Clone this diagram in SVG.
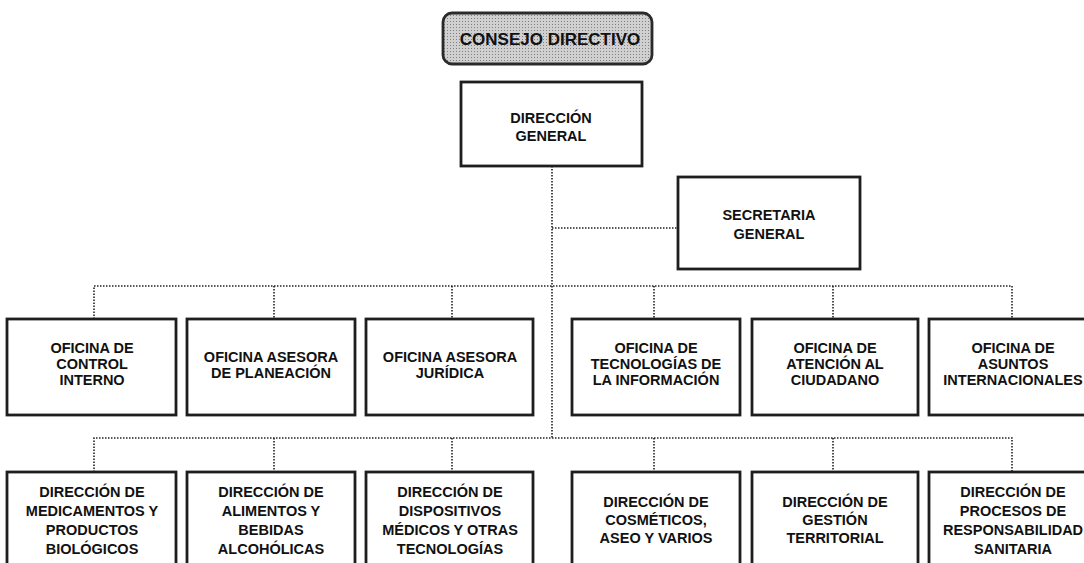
<svg xmlns="http://www.w3.org/2000/svg" width="1084" height="563" viewBox="0 0 1084 563">
<defs>
<pattern id="dots" width="3" height="3" patternUnits="userSpaceOnUse">
<rect width="3" height="3" fill="#d0d0d0"/>
<rect width="1" height="1" fill="#808080"/>
</pattern>
</defs>
<style>
.box{fill:#fff;stroke:#1e1e1e;stroke-width:2.8}
.head{fill:url(#dots);stroke:#2a2a2a;stroke-width:2.8}
.conn{fill:none;stroke:#222;stroke-width:1.6;stroke-dasharray:1.5 1.5}
text{font-family:"Liberation Sans",Arial,sans-serif;font-weight:bold;font-size:14.5px;fill:#111;text-anchor:middle}
.big{font-size:17px}
</style>
<rect width="1084" height="563" fill="#fff"/>
<g id="connectors">
<path class="conn" d="M552 166 V438"/>
<path class="conn" d="M552 228 H678"/>
<path class="conn" d="M94 319 V286 H1012 V319"/>
<path class="conn" d="M274 286 V319 M452 286 V319 M654 286 V319 M833 286 V319"/>
<path class="conn" d="M94 472 V438 H1012 V472"/>
<path class="conn" d="M274 438 V472 M452 438 V472 M654 438 V472 M833 438 V472"/>
</g>
<g id="consejo">
<rect class="head" x="443" y="13" width="209" height="51" rx="9"/>
<text class="big" x="550" y="45">CONSEJO DIRECTIVO</text>
</g>
<g id="direccion-general">
<rect class="box" x="461" y="82" width="181" height="84"/>
<text x="551" y="123">DIRECCIÓN</text>
<text x="551" y="141">GENERAL</text>
</g>
<g id="secretaria">
<rect class="box" x="678" y="177" width="182" height="92"/>
<text x="769" y="220">SECRETARIA</text>
<text x="769" y="239">GENERAL</text>
</g>
<g id="of-control">
<rect class="box" x="7" y="319" width="169" height="96"/>
<text x="92" y="353">OFICINA DE</text>
<text x="92" y="369">CONTROL</text>
<text x="92" y="385">INTERNO</text>
</g>
<g id="of-planeacion">
<rect class="box" x="187" y="319" width="168" height="96"/>
<text x="271" y="362">OFICINA ASESORA</text>
<text x="271" y="378">DE PLANEACIÓN</text>
</g>
<g id="of-juridica">
<rect class="box" x="366" y="319" width="167" height="96"/>
<text x="450" y="362">OFICINA ASESORA</text>
<text x="450" y="378">JURÍDICA</text>
</g>
<g id="of-tecnologias">
<rect class="box" x="572" y="319" width="168" height="96"/>
<text x="656" y="353">OFICINA DE</text>
<text x="656" y="369">TECNOLOGÍAS DE</text>
<text x="656" y="385">LA INFORMACIÓN</text>
</g>
<g id="of-atencion">
<rect class="box" x="752" y="319" width="166" height="96"/>
<text x="835" y="353">OFICINA DE</text>
<text x="835" y="369">ATENCIÓN AL</text>
<text x="835" y="385">CIUDADANO</text>
</g>
<g id="of-internacionales">
<rect class="box" x="929" y="319" width="168" height="96"/>
<text x="1013" y="353">OFICINA DE</text>
<text x="1013" y="369">ASUNTOS</text>
<text x="1013" y="385">INTERNACIONALES</text>
</g>
<g id="dir-medicamentos">
<rect class="box" x="7" y="472" width="169" height="100"/>
<text x="92" y="497">DIRECCIÓN DE</text>
<text x="92" y="516">MEDICAMENTOS Y</text>
<text x="92" y="535">PRODUCTOS</text>
<text x="92" y="554">BIOLÓGICOS</text>
</g>
<g id="dir-alimentos">
<rect class="box" x="187" y="472" width="168" height="100"/>
<text x="271" y="497">DIRECCIÓN DE</text>
<text x="271" y="516">ALIMENTOS Y</text>
<text x="271" y="535">BEBIDAS</text>
<text x="271" y="554">ALCOHÓLICAS</text>
</g>
<g id="dir-dispositivos">
<rect class="box" x="366" y="472" width="167" height="100"/>
<text x="450" y="497">DIRECCIÓN DE</text>
<text x="450" y="516">DISPOSITIVOS</text>
<text x="450" y="535">MÉDICOS Y OTRAS</text>
<text x="450" y="554">TECNOLOGÍAS</text>
</g>
<g id="dir-cosmeticos">
<rect class="box" x="572" y="472" width="168" height="100"/>
<text x="656" y="507">DIRECCIÓN DE</text>
<text x="656" y="525">COSMÉTICOS,</text>
<text x="656" y="543">ASEO Y VARIOS</text>
</g>
<g id="dir-gestion">
<rect class="box" x="752" y="472" width="166" height="100"/>
<text x="835" y="507">DIRECCIÓN DE</text>
<text x="835" y="525">GESTIÓN</text>
<text x="835" y="543">TERRITORIAL</text>
</g>
<g id="dir-procesos">
<rect class="box" x="929" y="472" width="168" height="100"/>
<text x="1013" y="497">DIRECCIÓN DE</text>
<text x="1013" y="516">PROCESOS DE</text>
<text x="1013" y="535">RESPONSABILIDAD</text>
<text x="1013" y="554">SANITARIA</text>
</g>
</svg>
